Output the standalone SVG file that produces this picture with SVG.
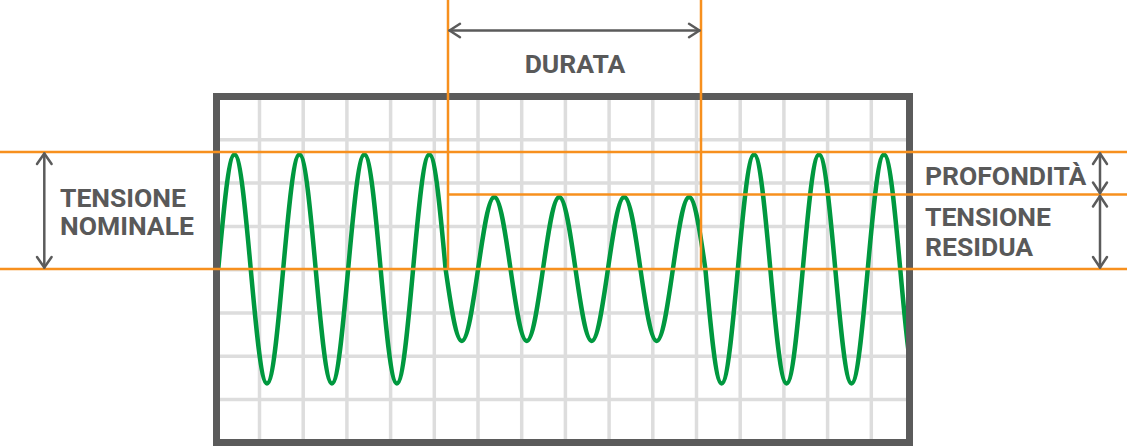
<svg xmlns="http://www.w3.org/2000/svg" width="1127" height="447" viewBox="0 0 1127 447">
<style>
.grid line{stroke:#dddddd;stroke-width:3.5}
.or{stroke:#f7901e;stroke-width:2.5;fill:none}
.arr{stroke:#5b5b5b;stroke-width:2.5;fill:none;stroke-linecap:round;stroke-linejoin:round}
text{font-family:Roboto,"Liberation Sans",sans-serif;font-weight:700;font-size:26.5px;fill:#595959}
</style>
<defs>
<clipPath id="inner"><rect x="220" y="100" width="686" height="339"/></clipPath>
</defs>
<rect width="1127" height="447" fill="#ffffff"/>
<g id="grid" class="grid">
<line x1="259.5" y1="100" x2="259.5" y2="439"/>
<line x1="303.2" y1="100" x2="303.2" y2="439"/>
<line x1="346.9" y1="100" x2="346.9" y2="439"/>
<line x1="390.6" y1="100" x2="390.6" y2="439"/>
<line x1="434.3" y1="100" x2="434.3" y2="439"/>
<line x1="478" y1="100" x2="478" y2="439"/>
<line x1="521.7" y1="100" x2="521.7" y2="439"/>
<line x1="565.4" y1="100" x2="565.4" y2="439"/>
<line x1="609.1" y1="100" x2="609.1" y2="439"/>
<line x1="652.8" y1="100" x2="652.8" y2="439"/>
<line x1="696.5" y1="100" x2="696.5" y2="439"/>
<line x1="740.2" y1="100" x2="740.2" y2="439"/>
<line x1="783.9" y1="100" x2="783.9" y2="439"/>
<line x1="827.6" y1="100" x2="827.6" y2="439"/>
<line x1="871.3" y1="100" x2="871.3" y2="439"/>
<line x1="220" y1="139.8" x2="906" y2="139.8"/>
<line x1="220" y1="183.1" x2="906" y2="183.1"/>
<line x1="220" y1="226.4" x2="906" y2="226.4"/>
<line x1="220" y1="269.7" x2="906" y2="269.7"/>
<line x1="220" y1="313" x2="906" y2="313"/>
<line x1="220" y1="356.3" x2="906" y2="356.3"/>
<line x1="220" y1="399.6" x2="906" y2="399.6"/>
</g>
<g id="wave" clip-path="url(#inner)">
<path fill="none" stroke="#00983f" stroke-width="4.5" stroke-linejoin="round" d="M218.26,269
c5.295,-58.66 10.361,-114.5 16.2375,-114.5 c5.876,0 10.942,55.84 16.2375,114.5 c5.295,58.66 10.361,114.5 16.2375,114.5 c5.876,0 10.942,-55.84 16.2375,-114.5
c5.295,-58.66 10.361,-114.5 16.2375,-114.5 c5.876,0 10.942,55.84 16.2375,114.5 c5.295,58.66 10.361,114.5 16.2375,114.5 c5.876,0 10.942,-55.84 16.2375,-114.5
c5.295,-58.66 10.361,-114.5 16.2375,-114.5 c5.876,0 10.942,55.84 16.2375,114.5 c5.295,58.66 10.361,114.5 16.2375,114.5 c5.876,0 10.942,-55.84 16.2375,-114.5
c5.295,-58.66 10.361,-114.5 16.2375,-114.5 c5.876,0 10.942,55.84 16.2375,114.5
c5.295,36.89 10.361,72 16.2375,72 c5.876,0 10.942,-35.11 16.2375,-72 c5.295,-36.89 10.361,-72 16.2375,-72 c5.876,0 10.942,35.11 16.2375,72
c5.295,36.89 10.361,72 16.2375,72 c5.876,0 10.942,-35.11 16.2375,-72 c5.295,-36.89 10.361,-72 16.2375,-72 c5.876,0 10.942,35.11 16.2375,72
c5.295,36.89 10.361,72 16.2375,72 c5.876,0 10.942,-35.11 16.2375,-72 c5.295,-36.89 10.361,-72 16.2375,-72 c5.876,0 10.942,35.11 16.2375,72
c5.295,36.89 10.361,72 16.2375,72 c5.876,0 10.942,-35.11 16.2375,-72 c5.295,-36.89 10.361,-72 16.2375,-72 c5.876,0 10.942,35.11 16.2375,72
c5.295,58.66 10.361,114.5 16.2375,114.5 c5.876,0 10.942,-55.84 16.2375,-114.5 c5.295,-58.66 10.361,-114.5 16.2375,-114.5 c5.876,0 10.942,55.84 16.2375,114.5
c5.295,58.66 10.361,114.5 16.2375,114.5 c5.876,0 10.942,-55.84 16.2375,-114.5 c5.295,-58.66 10.361,-114.5 16.2375,-114.5 c5.876,0 10.942,55.84 16.2375,114.5
c5.295,58.66 10.361,114.5 16.2375,114.5 c5.876,0 10.942,-55.84 16.2375,-114.5 c5.295,-58.66 10.361,-114.5 16.2375,-114.5 c5.876,0 10.942,55.84 16.2375,114.5
c5.295,58.66 10.361,114.5 16.2375,114.5"/>
</g>
<g id="frame">
<rect x="216.5" y="96.5" width="693" height="346" fill="none" stroke="#5b5b5b" stroke-width="7"/>
</g>
<g id="connectors">
<g class="or">
<line x1="0" y1="152" x2="1127" y2="152"/>
<line x1="448" y1="194.5" x2="1127" y2="194.5"/>
<line x1="0" y1="269" x2="1127" y2="269"/>
<line x1="448" y1="0" x2="448" y2="269"/>
<line x1="701" y1="0" x2="701" y2="269"/>
</g>
<g class="arr">
<line x1="449.5" y1="30.5" x2="699.5" y2="30.5"/>
<polyline points="460,23.8 449.5,30.5 460,37.2"/>
<polyline points="689,23.8 699.5,30.5 689,37.2"/>
<line x1="44.3" y1="153.5" x2="44.3" y2="267.5"/>
<polyline points="37,164 44.3,153.5 51.6,164"/>
<polyline points="37,257 44.3,267.5 51.6,257"/>
<line x1="1100" y1="153.5" x2="1100" y2="193"/>
<polyline points="1093,164 1100,153.5 1107,164"/>
<polyline points="1093,182.5 1100,193 1107,182.5"/>
<line x1="1100" y1="196" x2="1100" y2="267.5"/>
<polyline points="1093,206.5 1100,196 1107,206.5"/>
<polyline points="1093,257 1100,267.5 1107,257"/>
</g>
</g>
<g id="label-durata"><text x="575" y="73" text-anchor="middle">DURATA</text></g>
<g id="label-nominale"><text x="60" y="206.5">TENSIONE</text><text x="60" y="235">NOMINALE</text></g>
<g id="label-profondita"><text x="925" y="185">PROFONDITÀ</text></g>
<g id="label-residua"><text x="925" y="226">TENSIONE</text><text x="925" y="255.5">RESIDUA</text></g>
</svg>
